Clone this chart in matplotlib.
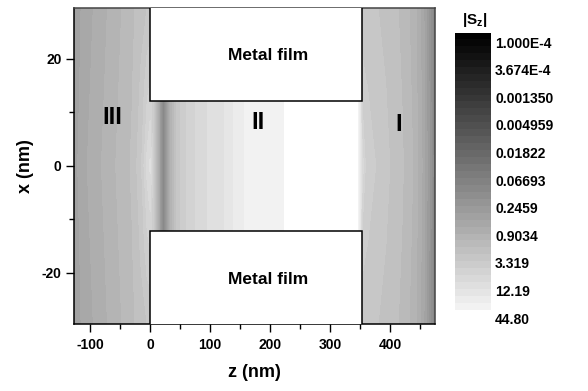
import numpy as np
import matplotlib
matplotlib.use('Agg')
import matplotlib.pyplot as plt
from matplotlib.colors import ListedColormap
from matplotlib.patches import Rectangle

plt.rcParams['font.family'] = ['Liberation Sans', 'DejaVu Sans']
plt.rcParams['font.weight'] = 'bold'
plt.rcParams['axes.labelweight'] = 'bold'
plt.rcParams['axes.unicode_minus'] = False
plt.rcParams['mathtext.fontset'] = 'custom'
plt.rcParams['mathtext.rm'] = 'Liberation Sans:bold'
plt.rcParams['mathtext.it'] = 'Liberation Sans:bold'
plt.rcParams['mathtext.default'] = 'rm'

z_nm = [-127, -110, -90, -70, -50, -30, -15, -5, 0, 5, 12, 18, 22, 27, 33, 42,
        55, 75, 100, 125, 150, 175, 200, 222, 230, 340, 347, 353, 360, 380,
        400, 420, 440, 455, 465, 475]
# profile on the axis x = 0
sz_center = [0.38, 0.57, 0.75, 0.99, 1.30, 1.71, 2.97, 6.77, 8.92, 3.91, 0.99,
             0.19, 0.083, 0.19, 0.75, 1.96, 3.91, 5.90, 8.92, 11.7, 20.3, 28.0,
             28.0, 28.0, 60.0, 60.0, 28.0, 7.77, 3.91, 2.97, 2.25, 1.71, 1.13,
             0.57, 0.25, 0.083]
# profile at |x| = 15 nm
sz_mid = [0.35, 0.53, 0.70, 0.92, 1.21, 1.60, 2.40, 3.91, 4.48, 3.91, 0.99,
          0.19, 0.083, 0.19, 0.75, 1.96, 3.91, 5.90, 8.92, 11.7, 20.3, 28.0,
          28.0, 28.0, 60.0, 60.0, 28.0, 3.91, 3.20, 2.59, 2.10, 1.60, 1.06,
          0.53, 0.23, 0.083]
# profile at |x| = 30 nm
sz_edge = [0.33, 0.50, 0.65, 0.86, 1.13, 1.49, 1.96, 2.25, 2.25, 3.91, 0.99,
           0.19, 0.083, 0.19, 0.75, 1.96, 3.91, 5.90, 8.92, 11.7, 20.3, 28.0,
           28.0, 28.0, 60.0, 60.0, 28.0, 2.25, 2.25, 2.25, 1.96, 1.49, 0.99,
           0.50, 0.22, 0.083]
x_rows = [-30, -15, 0, 15, 30]

cbar_labels = ['1.000E-4', '3.674E-4', '0.001350', '0.004959', '0.01822',
               '0.06693', '0.2459', '0.9034', '3.319', '12.19', '44.80']
vmin, vmax = 6.51e-5, 30.8
n_bands = 40

fig = plt.figure(figsize=(5.88, 3.91), dpi=100)
ax = fig.add_axes([74 / 588, 1 - 324 / 391, 361 / 588, 316.5 / 391])

grey = np.linspace(0, 0.95, n_bands)
cmap = ListedColormap(np.column_stack([grey, grey, grey])).with_extremes(over='white')
levels = np.linspace(np.log10(vmin), np.log10(vmax), n_bands + 1)

V = np.array([sz_edge, sz_mid, sz_center, sz_mid, sz_edge])
ax.contourf(z_nm, x_rows, np.log10(V), levels=levels, cmap=cmap, extend='max')

# metal films
for y0 in (12.2, -40):
    ax.add_patch(Rectangle((0, y0), 353, 27.8, facecolor='white',
                           edgecolor='black', lw=1.1, zorder=3))
ax.text(197, 20.7, 'Metal film', ha='center', va='center', fontsize=12.5, zorder=4)
ax.text(197, -21.2, 'Metal film', ha='center', va='center', fontsize=12.5, zorder=4)
ax.text(-63, 9.0, 'III', ha='center', va='center', fontsize=17, zorder=4)
ax.text(180, 8.0, 'II', ha='center', va='center', fontsize=17, zorder=4)
ax.text(415, 7.8, 'I', ha='center', va='center', fontsize=17, zorder=4)

ax.set_xlim(-127, 475)
ax.set_ylim(-29.6, 29.6)
ax.set_xticks([-100, 0, 100, 200, 300, 400])
ax.set_xticks(np.arange(-50, 475, 100), minor=True)
ax.set_yticks([-20, 0, 20])
ax.set_yticks([-10, 10], minor=True)
ax.tick_params(which='major', direction='out', length=6, width=1, labelsize=10, pad=3)
ax.tick_params(which='minor', direction='out', length=3.5, width=1)
ax.tick_params(axis='x', which='major', pad=4)
for s in ax.spines.values():
    s.set_linewidth(1.1)
ax.spines['top'].set_color('#444444')
ax.spines['right'].set_color('#444444')

ax.set_xlabel('z (nm)', fontsize=13)
ax.set_ylabel('x (nm)', fontsize=13)
ax.xaxis.set_label_coords(0.5, -0.125)
ax.yaxis.set_label_coords(-0.112, 0.5)

# colour scale
cax = fig.add_axes([455 / 588, 1 - 322 / 391, 36 / 588, 289 / 391])
cax.imshow(np.arange(n_bands).reshape(-1, 1), cmap=cmap, aspect='auto',
           interpolation='nearest', extent=[0, 1, 9.71, -0.33])
cax.set_xlim(0, 1)
cax.set_ylim(10.14, -0.33)
cax.set_xticks([])
cax.yaxis.tick_right()
cax.set_yticks(range(len(cbar_labels)))
cax.set_yticklabels(cbar_labels)
cax.tick_params(length=0, labelsize=10, pad=3)
for s in cax.spines.values():
    s.set_visible(False)
fig.text(475 / 588, 1 - 20 / 391, r'$|S_z|$', ha='center', va='center', fontsize=11)

fig.savefig('out.png', dpi=100)
